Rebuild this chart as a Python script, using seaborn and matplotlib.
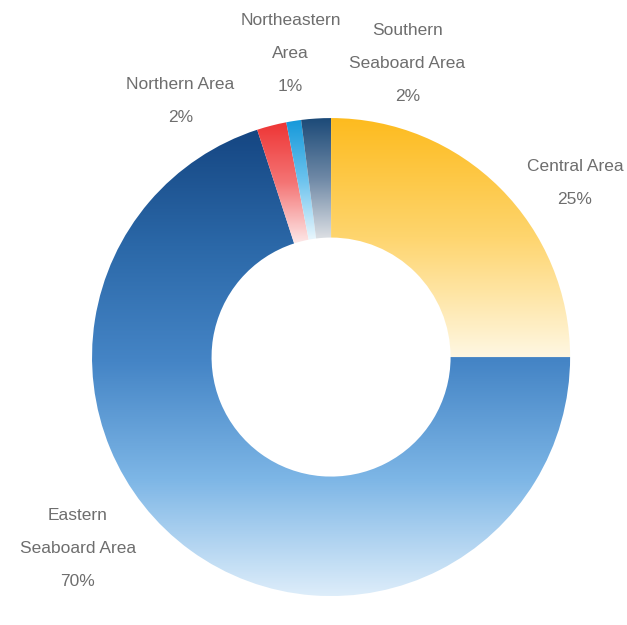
import numpy as np
import matplotlib
matplotlib.use("Agg")
import matplotlib.pyplot as plt
import seaborn as sns

# Regional share data
categories = ["Central Area", "Eastern\nSeaboard Area", "Northern Area",
              "Northeastern\nArea", "Southern\nSeaboard Area"]
shares = [25, 70, 2, 1, 2]

# Gradient stops for each slice, bottom -> top
grad_colors = [
    ["#FFF7E2", "#FED56E", "#FDBB1E"],
    ["#DDEDFA", "#7DB6E6", "#4585C6", "#2B68A8", "#154682"],
    ["#FDE8E8", "#F47474", "#EE3434"],
    ["#EAF7FD", "#6CC3EE", "#1699DA"],
    ["#DDE0E4", "#6F89A6", "#1C4A78"],
]

# Label anchor positions (data units, ring radius = 1)
label_pos = [(1.02, 0.73), (-1.06, -0.80), (-0.63, 1.07), (-0.17, 1.27), (0.32, 1.23)]

sns.set_theme(style="white")
plt.rcParams["font.family"] = ["Liberation Sans", "DejaVu Sans"]

fig = plt.figure(figsize=(6.27, 6.25), dpi=100)
ax = fig.add_axes([0, 0, 1, 1])

wedges, _ = ax.pie(shares, startangle=90, counterclock=False,
                   wedgeprops=dict(width=0.5, edgecolor="none"))

# Fill every wedge with a vertical gradient clipped to its shape
grad = np.linspace(0, 1, 256).reshape(-1, 1)
for w, stops in zip(wedges, grad_colors):
    cmap = sns.blend_palette(stops, as_cmap=True)
    bb = w.get_path().get_extents()
    w.set_facecolor("none")
    im = ax.imshow(grad, cmap=cmap, extent=[bb.x0, bb.x1, bb.y0, bb.y1],
                   origin="lower", aspect="auto", zorder=1)
    im.set_clip_path(w)

for name, val, (x, y) in zip(categories, shares, label_pos):
    ax.text(x, y, f"{name}\n{val}%", ha="center", va="center",
            fontsize=12.5, color="#6E6E6E", linespacing=2.5)

ax.set_xlim(-1.385, 1.238)
ax.set_ylim(-1.121, 1.494)
ax.set_aspect("auto")
ax.axis("off")

fig.savefig("out.png", dpi=100, facecolor="white")
